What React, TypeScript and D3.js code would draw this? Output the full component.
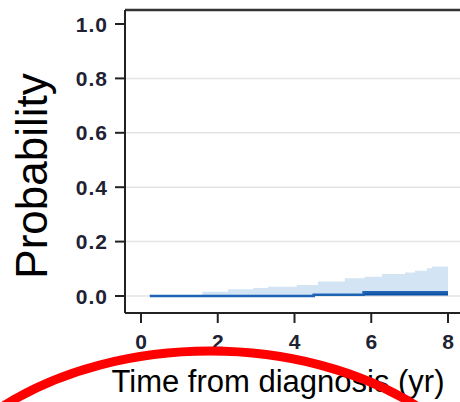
import * as d3 from 'd3';

// step points: time (yr) where each step begins, and value from then on
const upperTimes = [0.23, 1.6, 2.27, 2.92, 3.31, 4.06, 4.61, 5.31, 5.83, 6.28, 6.88, 7.14, 7.45, 7.58, 8.0];
const upperVals = [0.004, 0.016, 0.025, 0.029, 0.034, 0.040, 0.053, 0.065, 0.071, 0.081, 0.086, 0.093, 0.102, 0.108, 0.108];
const estTimes = [0.23, 4.5, 5.8, 8.0];
const estVals = [0.0, 0.005, 0.014, 0.014];
const xTicks = [0, 2, 4, 6, 8];
const yTicks = [0, 0.2, 0.4, 0.6, 0.8, 1.0];
const gridTicks = [0, 0.2, 0.4, 0.6, 0.8];

const W = 460, H = 402;
const frame = { left: 125, top: 10, bottom: 313, right: 460 };
const FONT = '"Liberation Sans", Arial, sans-serif';

export default function App() {
  const x = d3.scaleLinear().domain([0, 8]).range([141, 448]);
  const y = d3.scaleLinear().domain([0, 1]).range([296, 24]);

  const upper = upperTimes.map((t, i) => ({ t, v: upperVals[i] }));
  const est = estTimes.map((t, i) => ({ t, v: estVals[i] }));

  const band = d3.area<{ t: number; v: number }>()
    .x(d => x(d.t)).y0(y(0)).y1(d => y(d.v)).curve(d3.curveStepAfter);
  const estArea = d3.area<{ t: number; v: number }>()
    .x(d => x(d.t)).y0(y(0) - 0.5).y1(d => y(d.v)).curve(d3.curveStepAfter);
  const estLine = d3.line<{ t: number; v: number }>()
    .x(d => x(d.t)).y(d => y(d.v)).curve(d3.curveStepAfter);

  return (
    <div style={{ position: 'fixed', left: 0, top: 0, width: W, height: H, background: '#fff' }}>
      <svg width={W} height={H} style={{ display: 'block' }}>
        {gridTicks.map(t => (
          <line key={t} x1={frame.left} x2={frame.right} y1={y(t)} y2={y(t)} stroke="#e4e4e4" strokeWidth={1.5} />
        ))}

        <path d={band(upper) ?? ''} fill="#d3e4f4" />
        <path d={estArea(est) ?? ''} fill="#0b4fa3" />
        <path d={estLine(est) ?? ''} fill="none" stroke="#1f63b5" strokeWidth={2.5} />

        {/* frame */}
        <line x1={frame.left} x2={frame.right} y1={frame.top} y2={frame.top} stroke="#333" strokeWidth={2.5} />
        <line x1={frame.left} x2={frame.left} y1={frame.top} y2={frame.bottom} stroke="#222" strokeWidth={2} />
        <line x1={frame.left} x2={frame.right} y1={frame.bottom} y2={frame.bottom} stroke="#222" strokeWidth={2} />

        {yTicks.map(t => (
          <g key={t}>
            <line x1={115} x2={frame.left} y1={y(t)} y2={y(t)} stroke="#222" strokeWidth={2} />
            <text x={108} y={y(t)} dy="0.36em" textAnchor="end" fontFamily={FONT} fontSize={21}
              fontWeight="bold" fill="#1f2233" style={{ letterSpacing: 1 }}>{t.toFixed(1)}</text>
          </g>
        ))}
        {xTicks.map(t => (
          <g key={t}>
            <line x1={x(t)} x2={x(t)} y1={frame.bottom} y2={323} stroke="#222" strokeWidth={2} />
            <text x={x(t)} y={349} textAnchor="middle" fontFamily={FONT} fontSize={21}
              fontWeight="bold" fill="#1f2233">{t}</text>
          </g>
        ))}

        <text x={278} y={392} textAnchor="middle" fontFamily={FONT} fontSize={31} fill="#000">
          Time from diagnosis (yr)
        </text>
        <text transform={`translate(47,176) rotate(-90)`} textAnchor="middle" fontFamily={FONT}
          fontSize={44} fill="#000">Probability</text>

        {/* red annotation stroke */}
        <ellipse cx={210} cy={551} rx={300} ry={200} fill="none" stroke="#ff0000" strokeWidth={9} />
      </svg>
    </div>
  );
}
